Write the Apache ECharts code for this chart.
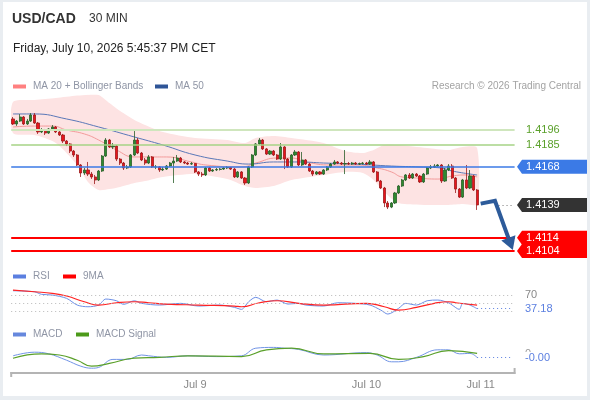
<!DOCTYPE html>
<html>
<head>
<meta charset="utf-8">
<title>USD/CAD 30 MIN</title>
<script src="https://cdn.jsdelivr.net/npm/echarts@6/dist/echarts.min.js"></script>
<style>
  html, body { margin: 0; padding: 0; background: #fff; }
  #chart { width: 590px; height: 400px; }
</style>
</head>
<body>
<div id="chart"></div>
<script>
// slots on the time axis (last candle + empty room to the right)
var slotCount = 141;
var tickIndex = [51, 99, 131];
var tickLabels = ['Jul 9', 'Jul 10', 'Jul 11'];

// 30 min candles
var opens = [
  1.42044, 1.42006, 1.42028, 1.42059, 1.42006, 1.42028, 1.42074, 1.42013, 1.41945, 1.41960,
  1.41937, 1.41968, 1.41983, 1.41945, 1.41922, 1.41876, 1.41854, 1.41800, 1.41770, 1.41694,
  1.41633, 1.41656, 1.41625, 1.41603, 1.41580, 1.41648, 1.41762, 1.41884, 1.41831, 1.41838,
  1.41739, 1.41709, 1.41671, 1.41679, 1.41770, 1.41884, 1.41785, 1.41732, 1.41709, 1.41755,
  1.41679, 1.41679, 1.41656, 1.41663, 1.41686, 1.41709, 1.41724, 1.41747, 1.41717, 1.41709,
  1.41701, 1.41705, 1.41641, 1.41625, 1.41618, 1.41671, 1.41648, 1.41656, 1.41660, 1.41663,
  1.41671, 1.41675, 1.41663, 1.41603, 1.41641, 1.41595, 1.41557, 1.41679, 1.41770, 1.41854,
  1.41884, 1.41816, 1.41777, 1.41800, 1.41770, 1.41739, 1.41831, 1.41739, 1.41679, 1.41770,
  1.41793, 1.41694, 1.41732, 1.41701, 1.41648, 1.41625, 1.41641, 1.41625, 1.41656, 1.41679,
  1.41701, 1.41717, 1.41709, 1.41701, 1.41705, 1.41701, 1.41709, 1.41701, 1.41705, 1.41709,
  1.41701, 1.41717, 1.41641, 1.41572, 1.41519, 1.41405, 1.41374, 1.41405, 1.41481, 1.41534,
  1.41580, 1.41618, 1.41595, 1.41625, 1.41610, 1.41565, 1.41625, 1.41671, 1.41679, 1.41686,
  1.41694, 1.41572, 1.41656, 1.41686, 1.41595, 1.41511, 1.41450, 1.41580, 1.41519, 1.41610,
  1.41504
];
var closes = [
  1.42006, 1.42028, 1.42059, 1.42006, 1.42028, 1.42074, 1.42013, 1.41945, 1.41960, 1.41937,
  1.41968, 1.41983, 1.41945, 1.41922, 1.41876, 1.41854, 1.41800, 1.41770, 1.41694, 1.41633,
  1.41656, 1.41625, 1.41603, 1.41580, 1.41648, 1.41762, 1.41884, 1.41831, 1.41838, 1.41739,
  1.41709, 1.41671, 1.41679, 1.41770, 1.41884, 1.41785, 1.41732, 1.41709, 1.41755, 1.41679,
  1.41679, 1.41656, 1.41663, 1.41686, 1.41709, 1.41724, 1.41747, 1.41717, 1.41709, 1.41701,
  1.41705, 1.41641, 1.41625, 1.41618, 1.41671, 1.41648, 1.41656, 1.41660, 1.41663, 1.41671,
  1.41675, 1.41663, 1.41603, 1.41641, 1.41595, 1.41557, 1.41679, 1.41770, 1.41854, 1.41884,
  1.41816, 1.41777, 1.41800, 1.41770, 1.41739, 1.41831, 1.41739, 1.41679, 1.41770, 1.41793,
  1.41694, 1.41732, 1.41701, 1.41648, 1.41625, 1.41641, 1.41625, 1.41656, 1.41679, 1.41701,
  1.41717, 1.41709, 1.41701, 1.41705, 1.41701, 1.41709, 1.41701, 1.41705, 1.41709, 1.41701,
  1.41717, 1.41641, 1.41572, 1.41519, 1.41405, 1.41374, 1.41405, 1.41481, 1.41534, 1.41580,
  1.41618, 1.41595, 1.41625, 1.41610, 1.41565, 1.41625, 1.41671, 1.41679, 1.41686, 1.41694,
  1.41572, 1.41656, 1.41686, 1.41595, 1.41511, 1.41450, 1.41580, 1.41519, 1.41610, 1.41504,
  1.41390
];
var highs = [
  1.42059, 1.42036, 1.42081, 1.42066, 1.42044, 1.42089, 1.42089, 1.42021, 1.41975, 1.41968,
  1.41975, 1.41998, 1.41990, 1.41952, 1.41930, 1.41884, 1.41861, 1.41808, 1.41777, 1.41701,
  1.41671, 1.41717, 1.41641, 1.41618, 1.41656, 1.41770, 1.41899, 1.41892, 1.41861, 1.41846,
  1.41747, 1.41717, 1.41694, 1.41777, 1.41952, 1.41899, 1.41793, 1.41747, 1.41770, 1.41762,
  1.41694, 1.41686, 1.41679, 1.41694, 1.41717, 1.41755, 1.41770, 1.41755, 1.41724, 1.41717,
  1.41717, 1.41709, 1.41648, 1.41641, 1.41679, 1.41679, 1.41663, 1.41671, 1.41671, 1.41679,
  1.41686, 1.41679, 1.41671, 1.41648, 1.41648, 1.41603, 1.41686, 1.41777, 1.41861, 1.41899,
  1.41892, 1.41823, 1.41808, 1.41808, 1.41777, 1.41861, 1.41838, 1.41747, 1.41777, 1.41808,
  1.41800, 1.41793, 1.41739, 1.41709, 1.41656, 1.41648, 1.41648, 1.41663, 1.41686, 1.41709,
  1.41732, 1.41724, 1.41717, 1.41808, 1.41717, 1.41717, 1.41717, 1.41712, 1.41717, 1.41717,
  1.41732, 1.41724, 1.41648, 1.41580, 1.41527, 1.41420, 1.41412, 1.41489, 1.41542, 1.41588,
  1.41625, 1.41633, 1.41633, 1.41633, 1.41618, 1.41633, 1.41679, 1.41694, 1.41701, 1.41701,
  1.41701, 1.41671, 1.41701, 1.41701, 1.41603, 1.41519, 1.41588, 1.41694, 1.41656, 1.41618,
  1.41511
];
var lows = [
  1.41998, 1.41991, 1.42021, 1.41998, 1.41998, 1.42021, 1.42006, 1.41930, 1.41937, 1.41922,
  1.41930, 1.41960, 1.41937, 1.41915, 1.41861, 1.41838, 1.41785, 1.41755, 1.41686, 1.41603,
  1.41618, 1.41610, 1.41588, 1.41549, 1.41572, 1.41641, 1.41755, 1.41823, 1.41815, 1.41724,
  1.41694, 1.41656, 1.41663, 1.41671, 1.41762, 1.41777, 1.41724, 1.41694, 1.41701, 1.41671,
  1.41663, 1.41641, 1.41648, 1.41656, 1.41679, 1.41557, 1.41717, 1.41709, 1.41701, 1.41694,
  1.41694, 1.41633, 1.41610, 1.41603, 1.41610, 1.41641, 1.41641, 1.41648, 1.41652, 1.41656,
  1.41663, 1.41656, 1.41595, 1.41595, 1.41588, 1.41542, 1.41549, 1.41671, 1.41762, 1.41846,
  1.41808, 1.41770, 1.41770, 1.41762, 1.41732, 1.41732, 1.41663, 1.41671, 1.41671, 1.41762,
  1.41686, 1.41686, 1.41694, 1.41641, 1.41610, 1.41618, 1.41618, 1.41618, 1.41648, 1.41671,
  1.41694, 1.41701, 1.41694, 1.41625, 1.41694, 1.41694, 1.41694, 1.41694, 1.41698, 1.41694,
  1.41694, 1.41633, 1.41565, 1.41511, 1.41374, 1.41359, 1.41366, 1.41397, 1.41473, 1.41527,
  1.41572, 1.41588, 1.41588, 1.41603, 1.41557, 1.41557, 1.41618, 1.41663, 1.41671, 1.41679,
  1.41557, 1.41565, 1.41648, 1.41588, 1.41481, 1.41443, 1.41443, 1.41511, 1.41511, 1.41496,
  1.41352
];

// Bollinger bands, MA 20, MA 50 (read at these slots)
var bandIndex = [0, 6, 12, 18, 21, 24, 27, 30, 34, 37, 42, 51, 60, 65, 68, 73, 78, 87, 93, 98, 101, 104, 108, 116, 122, 126, 130];
var bandUpper = [1.42173, 1.42188, 1.42203, 1.42222, 1.42229, 1.42226, 1.42165, 1.42104, 1.42036, 1.41998, 1.41945, 1.41899, 1.41884, 1.41861, 1.41899, 1.41914, 1.41899, 1.41861, 1.41800, 1.41785, 1.41808, 1.41846, 1.41846, 1.41823, 1.41808, 1.41831, 1.41823];
var bandLower = [1.41937, 1.41922, 1.41861, 1.41694, 1.41565, 1.41504, 1.41511, 1.41527, 1.41557, 1.41572, 1.41603, 1.41625, 1.41587, 1.41534, 1.41519, 1.41534, 1.41580, 1.41618, 1.41641, 1.41633, 1.41580, 1.41488, 1.41405, 1.41390, 1.41390, 1.41397, 1.41397];
var ma20Index = [0, 6, 11, 15, 20, 24, 29, 34, 38, 43, 50, 54, 64, 68, 74, 78, 82, 89, 96, 102, 106, 109, 113, 119, 123, 127, 130];
var ma20 = [1.41983, 1.41990, 1.41990, 1.41960, 1.41930, 1.41884, 1.41808, 1.41755, 1.41755, 1.41755, 1.41717, 1.41694, 1.41679, 1.41709, 1.41747, 1.41747, 1.41717, 1.41694, 1.41694, 1.41671, 1.41641, 1.41603, 1.41595, 1.41587, 1.41610, 1.41618, 1.41603];
var ma50Index = [0, 6, 15, 24, 34, 42, 51, 60, 66, 73, 80, 87, 96, 106, 114, 120, 123, 130];
var ma50 = [1.42082, 1.42082, 1.42044, 1.41983, 1.41907, 1.41846, 1.41770, 1.41724, 1.41701, 1.41717, 1.41717, 1.41709, 1.41701, 1.41686, 1.41679, 1.41671, 1.41648, 1.41618];

// levels
var resistances = [1.4196, 1.4185];
var pivot = 1.4168;
var lastPrice = 1.4139;
var supports = [1.4114, 1.4104];
var arrowIndex = [131, 135, 140];
var arrowPrice = [1.41400, 1.41422, 1.41047];

// RSI + 9MA
var rsiIndex = [0, 6, 8, 11, 15, 18, 21, 24, 26, 29, 31, 34, 36, 41, 47, 52, 58, 62, 64, 66, 68, 71, 74, 77, 80, 82, 87, 91, 96, 100, 103, 105, 108, 110, 113, 116, 119, 122, 123, 125, 126, 128, 130];
var rsi = [80.3, 77.9, 71.7, 70, 62.1, 46, 41.9, 46, 60.4, 56.3, 47.7, 56.3, 50.1, 46, 50.1, 43.6, 46, 40.5, 35.7, 53.9, 64.5, 53.9, 58, 48.4, 50.1, 46, 43.6, 51.5, 50.1, 46, 34, 24.4, 38.1, 50.1, 46, 56.3, 58, 51.5, 46, 35.7, 50.1, 46, 37.18];
var rsiMaIndex = [0, 6, 11, 15, 20, 24, 29, 34, 38, 43, 52, 62, 64, 69, 74, 80, 87, 99, 104, 108, 113, 118, 122, 124, 130];
var rsiMa = [82, 77.9, 74.1, 67.6, 53.9, 46, 51.5, 53.9, 51.5, 48.4, 46, 43.6, 41.9, 51.5, 56.3, 50.1, 46, 50.1, 41.9, 34, 40.5, 50.1, 53.9, 51.5, 46];
var rsiLevels = [70, 50, 30];

// MACD + signal
var macdIndex = [0, 6, 10, 15, 19, 22, 24, 28, 32, 36, 38, 43, 49, 57, 64, 68, 73, 76, 80, 87, 99, 102, 106, 108, 113, 119, 122, 125, 128, 130];
var macd = [0.00003, 0.00012, 0.00008, -0.00008, -0.00023, -0.00028, -0.00026, -0.00006, -0.00006, 0.00005, 0.00003, -0.00001, 0.00003, 0.00001, 0.00003, 0.00022, 0.00024, 0.00022, 0.00019, 0.00005, 0.00011, 0.00005, -0.00012, -0.00012, -0.00001, 0.00018, 0.00018, 0.00008, 0.00009, -0.00001];
var signalIndex = [0, 8, 13, 18, 22, 27, 34, 41, 49, 64, 71, 78, 87, 100, 108, 115, 122, 130];
var signal = [-0.00003, 0.00008, 0.00005, -0.00008, -0.00023, -0.00016, -0.00003, -0.00001, 0.00003, 0.00001, 0.00018, 0.00022, 0.00008, 0.00009, -0.00006, 0.00001, 0.00016, 0.00009];

var FONT = '"Liberation Sans", Arial, sans-serif';

function pairs(idx, vals) {
    return idx.map(function (x, i) { return [x, vals[i]]; });
}

var categories = [];
for (var s = 0; s < slotCount; s++) categories.push(String(s));

var candles = opens.map(function (o, i) {
    return [o, closes[i], lows[i], highs[i]];
});

var gridLeft = 11.2, gridWidth = 503.4;

function xAxisFor(k) {
    return {
        type: 'category',
        gridIndex: k,
        data: categories,
        boundaryGap: true,
        axisLine: { show: k === 2, onZero: false, lineStyle: { color: '#b4b4b4', width: 2 } },
        axisTick: { show: false },
        splitLine: { show: false },
        axisLabel: {
            show: k === 2,
            interval: function (i) { return tickIndex.indexOf(i) >= 0; },
            formatter: function (v, i) {
                var t = tickIndex.indexOf(i);
                return t >= 0 ? tickLabels[t] : '';
            },
            color: '#888',
            fontSize: 11,
            fontFamily: FONT,
            margin: 6
        }
    };
}

var chart = echarts.init(document.getElementById('chart'));

var levelLines = [
    { yAxis: resistances[0], lineStyle: { color: '#cfe6bd', width: 2, type: 'solid' } },
    { yAxis: resistances[1], lineStyle: { color: '#a6d386', width: 1.5, type: 'solid' } },
    { yAxis: pivot, lineStyle: { color: '#3b7ae6', width: 1.5, type: 'solid' } },
    { yAxis: supports[0], lineStyle: { color: '#ff0000', width: 2, type: 'solid' } },
    { yAxis: supports[1], lineStyle: { color: '#ff0000', width: 2, type: 'solid' } },
    [
        { coord: [136, lastPrice], lineStyle: { color: '#777', width: 1, type: [1, 3] } },
        { coord: [140, lastPrice] }
    ]
];

var option = {
    animation: false,
    backgroundColor: '#fff',
    grid: [
        { left: gridLeft, width: gridWidth, top: 94.5, height: 165.7 },
        { left: gridLeft, width: gridWidth, top: 286.7, height: 29.2 },
        { left: gridLeft, width: gridWidth, top: 340, height: 33 }
    ],
    xAxis: [xAxisFor(0), xAxisFor(1), xAxisFor(2)],
    yAxis: [
        { type: 'value', gridIndex: 0, min: 1.4097, max: 1.4223, show: false, splitLine: { show: false } },
        { type: 'value', gridIndex: 1, min: 20, max: 90, show: false, splitLine: { show: false } },
        { type: 'value', gridIndex: 2, min: -0.0004, max: 0.000425, show: false, splitLine: { show: false } }
    ],
    series: [
        {
            type: 'custom',
            name: 'bands',
            xAxisIndex: 0,
            yAxisIndex: 0,
            z: 1,
            silent: true,
            clip: true,
            data: [[0, bandUpper[0]]],
            renderItem: function (params, api) {
                var pts = [];
                for (var i = 0; i < bandIndex.length; i++) {
                    pts.push(api.coord([bandIndex[i], bandUpper[i]]));
                }
                for (var j = bandIndex.length - 1; j >= 0; j--) {
                    pts.push(api.coord([bandIndex[j], bandLower[j]]));
                }
                return {
                    type: 'polygon',
                    shape: { points: pts, smooth: 0.25 },
                    style: { fill: '#fde3e3' }
                };
            }
        },
        {
            type: 'line',
            name: 'MA 20',
            xAxisIndex: 0,
            yAxisIndex: 0,
            z: 2,
            data: pairs(ma20Index, ma20),
            smooth: 0.5,
            showSymbol: false,
            silent: true,
            lineStyle: { color: '#f39a9a', width: 1 }
        },
        {
            type: 'line',
            name: 'MA 50',
            xAxisIndex: 0,
            yAxisIndex: 0,
            z: 2,
            data: pairs(ma50Index, ma50),
            smooth: 0.5,
            showSymbol: false,
            silent: true,
            lineStyle: { color: '#5a78b8', width: 1 },
            markLine: {
                symbol: ['none', 'none'],
                silent: true,
                animation: false,
                precision: 5,
                label: { show: false },
                data: levelLines
            }
        },
        {
            type: 'candlestick',
            name: 'USD/CAD',
            xAxisIndex: 0,
            yAxisIndex: 0,
            z: 3,
            barWidth: 2.6,
            data: candles,
            itemStyle: {
                color: '#2e8a2e',
                color0: '#e8151d',
                borderColor: '#2a5e2a',
                borderColor0: '#9a1a1a',
                borderWidth: 0.8
            }
        },
        {
            type: 'line',
            name: 'RSI',
            xAxisIndex: 1,
            yAxisIndex: 1,
            data: pairs(rsiIndex, rsi),
            smooth: 0.3,
            showSymbol: false,
            lineStyle: { color: '#6b8ee6', width: 1 },
            markLine: {
                symbol: ['none', 'none'],
                silent: true,
                animation: false,
                precision: 3,
                label: { show: false },
                data: rsiLevels.map(function (v) {
                    return { yAxis: v, lineStyle: { color: '#b8b8b8', width: 1, type: [1, 3] } };
                }).concat([[
                    { coord: [130, rsi[rsi.length - 1]], lineStyle: { color: '#5b7fe0', width: 1, type: [1, 3] } },
                    { coord: [140, rsi[rsi.length - 1]] }
                ]])
            }
        },
        {
            type: 'line',
            name: '9MA',
            xAxisIndex: 1,
            yAxisIndex: 1,
            data: pairs(rsiMaIndex, rsiMa),
            smooth: 0.5,
            showSymbol: false,
            lineStyle: { color: '#ff2222', width: 1.2 }
        },
        {
            type: 'line',
            name: 'MACD',
            xAxisIndex: 2,
            yAxisIndex: 2,
            data: pairs(macdIndex, macd),
            smooth: 0.4,
            showSymbol: false,
            lineStyle: { color: '#7194e6', width: 1 },
            markLine: {
                symbol: ['none', 'none'],
                silent: true,
                animation: false,
                precision: 6,
                label: { show: false },
                data: [[
                    { coord: [130, macd[macd.length - 1]], lineStyle: { color: '#5b7fe0', width: 1, type: [1, 3] } },
                    { coord: [140, macd[macd.length - 1]] }
                ]]
            }
        },
        {
            type: 'line',
            name: 'MACD Signal',
            xAxisIndex: 2,
            yAxisIndex: 2,
            data: pairs(signalIndex, signal),
            smooth: 0.5,
            showSymbol: false,
            lineStyle: { color: '#5aa02a', width: 1.2 }
        }
    ]
};

chart.setOption(option);

// ---- overlays that need pixel positions from the axes ----
function py(grid, v) {
    return chart.convertToPixel({ gridIndex: grid }, [0, v])[1];
}
function pt(grid, x, v) {
    return chart.convertToPixel({ gridIndex: grid }, [x, v]);
}
function txt(x, y, text, color, size, extra) {
    var st = { text: text, fill: color, font: (extra || '') + size + 'px ' + FONT, verticalAlign: 'middle', textAlign: 'left' };
    return { type: 'text', x: x, y: y, z: 20, style: st };
}
function tag(y, fill, text) {
    return [
        { type: 'polygon', z: 18, shape: { points: [[517, y], [522, y - 7], [587, y - 7], [587, y + 7], [522, y + 7]] }, style: { fill: fill } },
        txt(526, y, text, '#fff', 11)
    ];
}
function legendItem(x, y, color, label) {
    return [
        { type: 'rect', z: 20, shape: { x: x, y: y - 2, width: 13, height: 4 }, style: { fill: color } },
        txt(x + 20, y, label, '#8f95a5', 10)
    ];
}

var g = [];
// frame
g.push({ type: 'rect', z: 30, shape: { x: 0, y: 0, width: 590, height: 2 }, style: { fill: '#e9edf1' } });
g.push({ type: 'rect', z: 30, shape: { x: 0, y: 0, width: 3, height: 400 }, style: { fill: '#e9edf1' } });
g.push({ type: 'rect', z: 30, shape: { x: 587, y: 0, width: 3, height: 400 }, style: { fill: '#e9edf1' } });
g.push({ type: 'rect', z: 30, shape: { x: 0, y: 396, width: 590, height: 4 }, style: { fill: '#e9edf1' } });

// header
g.push(txt(12, 19, 'USD/CAD', '#333', 14, 'bold '));
g.push(txt(89, 19, '30 MIN', '#333', 12));
g.push(txt(13, 49, 'Friday, July 10, 2026 5:45:37 PM CET', '#222', 12));
g = g.concat(legendItem(13, 86.5, '#ff8080', 'MA 20 + Bollinger Bands'));
g = g.concat(legendItem(155, 86.5, '#2f5597', 'MA 50'));
g.push({ type: 'text', x: 581, y: 86, z: 20, style: { text: 'Research \u00a9 2026 Trading Central', fill: '#a3a3a3', font: '10px ' + FONT, textAlign: 'right', verticalAlign: 'middle' } });

// price level labels
g.push(txt(526, py(0, resistances[0]), resistances[0].toFixed(4), '#5aa02a', 11));
g.push(txt(526, py(0, resistances[1]), resistances[1].toFixed(4), '#5aa02a', 11));
g = g.concat(tag(py(0, pivot), '#3b7ae6', pivot.toFixed(4)));
g = g.concat(tag(py(0, lastPrice), '#333333', lastPrice.toFixed(4)));
g = g.concat(tag(py(0, supports[0]), '#ff0000', supports[0].toFixed(4)));
g = g.concat(tag(py(0, supports[1]), '#ff0000', supports[1].toFixed(4)));

// forecast arrow
var ap = arrowIndex.map(function (x, i) { return pt(0, x, arrowPrice[i]); });
var a1 = ap[1], a2 = ap[2];
var dx = a2[0] - a1[0], dy = a2[1] - a1[1];
var len = Math.sqrt(dx * dx + dy * dy);
var ux = dx / len, uy = dy / len;
var headLen = 13, headHalf = 7.5;
var base = [a2[0] - ux * headLen, a2[1] - uy * headLen];
g.push({ type: 'polyline', z: 19, shape: { points: [ap[0], ap[1], base] }, style: { stroke: '#2d5b9a', lineWidth: 4, fill: null, lineJoin: 'miter' } });
g.push({ type: 'polygon', z: 19, shape: { points: [a2, [base[0] - uy * headHalf, base[1] + ux * headHalf], [base[0] + uy * headHalf, base[1] - ux * headHalf]] }, style: { fill: '#2d5b9a' } });

// RSI panel
g = g.concat(legendItem(13, 276.5, '#5b7fe0', 'RSI'));
g = g.concat(legendItem(63, 276.5, '#ff0000', '9MA'));
g.push(txt(525, py(1, rsiLevels[0]), String(rsiLevels[0]), '#888', 11));
g.push(txt(525, py(1, rsi[rsi.length - 1]), rsi[rsi.length - 1].toFixed(2), '#5b7fe0', 11));

// MACD panel
g = g.concat(legendItem(13, 334.5, '#6688dd', 'MACD'));
g = g.concat(legendItem(76, 334.5, '#4c9a1a', 'MACD Signal'));
var lastMacd = macd[macd.length - 1];
var macdY = py(2, lastMacd);
g.push(txt(525, macdY - 3, '0', '#999', 11));
g.push({ type: 'text', x: 524, y: macdY + 1, z: 21, style: { text: lastMacd.toFixed(2), fill: '#5b7fe0', font: '11px ' + FONT, verticalAlign: 'middle', backgroundColor: '#fff', padding: [2, 1, 0, 1] } });

// time axis end ticks
g.push({ type: 'line', z: 20, shape: { x1: 11.2, y1: 372, x2: 11.2, y2: 377 }, style: { stroke: '#b4b4b4', lineWidth: 2 } });
g.push({ type: 'line', z: 20, shape: { x1: 514.6, y1: 368, x2: 514.6, y2: 374 }, style: { stroke: '#b4b4b4', lineWidth: 2 } });

chart.setOption({ graphic: g });

window.addEventListener('resize', function () { chart.resize(); });
</script>
</body>
</html>
